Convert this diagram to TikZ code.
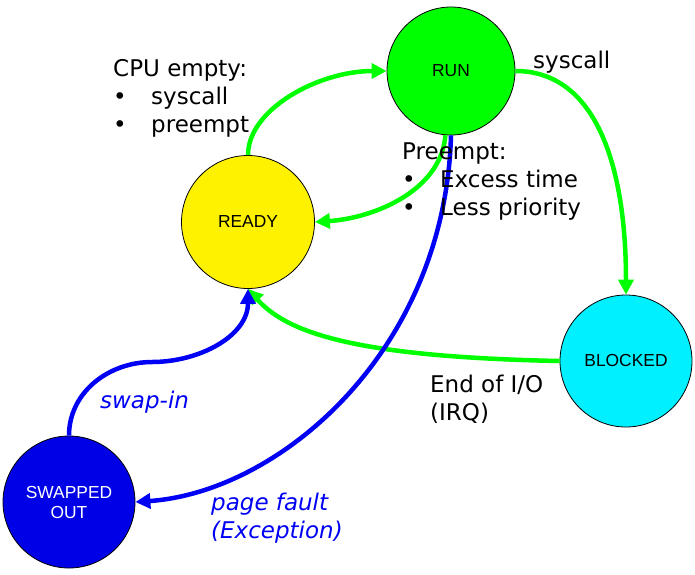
\documentclass[tikz,border=0pt]{standalone}
\usepackage{fontspec}
\setmainfont{DejaVu Sans}
\newfontfamily\statefont{Liberation Sans}
\usepackage{xcolor}
\usetikzlibrary{arrows.meta,positioning}

\definecolor{rungreen}{RGB}{0,255,0}
\definecolor{blockcyan}{RGB}{0,240,255}
\definecolor{swapblue}{RGB}{0,0,230}
\definecolor{arrblue}{RGB}{0,0,245}

\newcommand{\bul}{\makebox[38pt][l]{\textbullet}}

\begin{document}
\begin{tikzpicture}[x=1pt,y=-1pt,>={Triangle[length=15pt,width=15pt]},
    state/.style={circle,draw=black,line width=0.8pt,minimum size=132pt,inner sep=0pt,
      font=\statefont\fontsize{17.4}{20}\selectfont,align=center},
    note/.style={font=\fontsize{23}{28}\selectfont,anchor=base west,align=left,inner sep=0pt},
    trans/.style={->,line width=4.5pt}]
  \useasboundingbox (0,0) rectangle (695,574);

  % --- states ---
  \node[state,fill=rungreen,minimum size=128pt] (run) at (451,71) {RUN};
  \node[state,fill=yellow,minimum size=133pt] (ready) at (248,222) {READY};
  \node[state,fill=blockcyan] (blocked) at (626,361) {BLOCKED};
  \node[state,fill=swapblue,text=white] (swapped) at (69,502) {SWAPPED\\OUT};

  % --- green transitions ---
  \draw[trans,rungreen] (ready.north) .. controls +(0,-46) and +(-68,0) .. (run.west);
  \draw[trans,rungreen] (run.-95) .. controls +(-4,55) and +(60,-4) .. (ready.east);
  \draw[trans,rungreen] (run.east) .. controls +(80,0) and +(0,-130) .. (blocked.north);
  \draw[trans,rungreen] (blocked.west) .. controls +(-200,-4) and +(40,45) .. (ready.south);

  % --- blue transitions (memory) ---
  \draw[trans,arrblue] (run.south) .. controls +(-6,215) and +(145,-10) .. (swapped.east);
  \coordinate (swapbend) at (152,362);
  \draw[trans,arrblue] (swapped.north) to[out=90,in=180] (swapbend)
    to[out=0,in=-90] (ready.south);

  % --- labels (placed at the baseline of their last line) ---
  \node[note] (cpuempty) at (113,132) {CPU empty:\\\bul syscall\\\bul preempt};
  \node[note] (syscall) at (533,68) {syscall};
  \node[note] (preempt) at (402,215) {Preempt:\\\bul Excess time\\\bul Less priority};
  \node[note] (endio) at (430,420) {End of I/O\\(IRQ)};
  \node[note,arrblue,font=\fontsize{23}{28}\selectfont\itshape] (swapin) at (100,408) {swap-in};
  \node[note,arrblue,font=\fontsize{23}{28}\selectfont\itshape] (fault) at (211,538) {page fault\\(Exception)};
\end{tikzpicture}
\end{document}
